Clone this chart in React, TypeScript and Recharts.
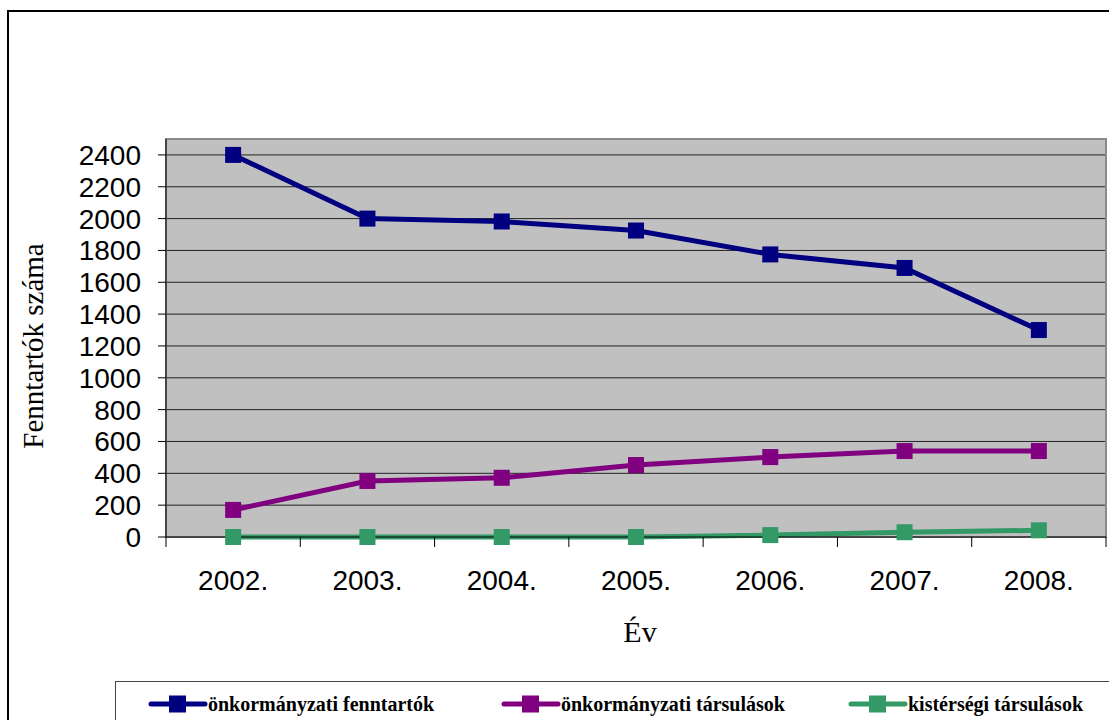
import React from 'react';
import { LineChart, Line, XAxis, YAxis, CartesianGrid, ReferenceArea, Legend } from 'recharts';

const years = ['2002.', '2003.', '2004.', '2005.', '2006.', '2007.', '2008.'];
const onkFenntartok = [2400, 2000, 1982, 1925, 1775, 1690, 1300];
const onkTarsulasok = [170, 352, 372, 452, 502, 540, 540];
const kisterTarsulasok = [0, 0, 0, 0, 12, 30, 42];
const yTicks = [0, 200, 400, 600, 800, 1000, 1200, 1400, 1600, 1800, 2000, 2200, 2400];
const xTicks = [-0.5, 0, 0.5, 1, 1.5, 2, 2.5, 3, 3.5, 4, 4.5, 5, 5.5, 6, 6.5];

const series = [
  { key: 'a', name: 'önkormányzati fenntartók', color: '#000080' },
  { key: 'b', name: 'önkormányzati társulások', color: '#800080' },
  { key: 'c', name: 'kistérségi társulások', color: '#339966' },
];

const data = years.map((label, i) => ({
  x: i,
  label,
  a: onkFenntartok[i],
  b: onkTarsulasok[i],
  c: kisterTarsulasok[i],
}));

const legendLefts = [32, 385, 732];

const XTick = (props: any) => {
  const { x, y, payload } = props;
  const v = payload.value;
  if (Number.isInteger(v)) {
    return (
      <text x={x} y={y + 53} textAnchor="middle" fontSize={28} fontFamily="'Liberation Sans', Arial, sans-serif" fill="#000">
        {years[v]}
      </text>
    );
  }
  return <line x1={x} x2={x} y1={y} y2={y + 10} stroke="#000" strokeWidth={1} />;
};

const makeDot = (color: string) => (props: any) => {
  const { cx, cy, index } = props;
  return <rect key={`d-${color}-${index}`} x={cx - 8} y={cy - 8} width={16} height={16} fill={color} />;
};

const renderLegend = () => (
  <div
    style={{
      position: 'relative',
      width: 1100,
      height: 60,
      border: '1.5px solid #444',
      boxSizing: 'border-box',
      background: '#fff',
    }}
  >
    {series.map((s, i) => (
      <div
        key={s.key}
        style={{ position: 'absolute', left: legendLefts[i], top: 9, height: 26, display: 'flex', alignItems: 'center' }}
      >
        <svg width={60} height={26} style={{ display: 'block' }}>
          <line x1={3} x2={57} y1={13} y2={13} stroke={s.color} strokeWidth={5} strokeLinecap="round" />
          <rect x={21} y={4.5} width={17} height={17} fill={s.color} />
        </svg>
        <span
          style={{
            fontFamily: "'Liberation Serif', 'Times New Roman', serif",
            fontWeight: 'bold',
            fontSize: 20,
            color: '#000',
            marginLeft: 0,
            whiteSpace: 'nowrap',
          }}
        >
          {s.name}
        </span>
      </div>
    ))}
  </div>
);

export default function App() {
  return (
    <div style={{ position: 'absolute', left: 0, top: 0, width: 1109, height: 720, overflow: 'hidden', background: '#fff' }}>
      <LineChart width={1109} height={720} data={data} margin={{ top: 139, right: 3, left: 106, bottom: 123 }}>
        <CartesianGrid vertical={false} fill="#c0c0c0" stroke="#222" strokeOpacity={1} />
        <ReferenceArea x1={-0.5} x2={6.5} y1={0} y2={2500} fill="none" stroke="#8a8a8a" strokeWidth={2} ifOverflow="visible" />
        <XAxis
          dataKey="x"
          type="number"
          domain={[-0.5, 6.5]}
          ticks={xTicks}
          interval={0}
          tickSize={0}
          tickMargin={0}
          tickLine={false}
          tick={<XTick />}
          axisLine={{ stroke: '#000', strokeWidth: 1 }}
          height={60}
          label={{
            content: () => (
              <text x={640} y={642} textAnchor="middle" fontSize={30} fontFamily="'Liberation Serif', 'Times New Roman', serif" fill="#000">
                Év
              </text>
            ),
          }}
        />
        <YAxis
          type="number"
          domain={[0, 2500]}
          ticks={yTicks}
          interval={0}
          width={60}
          tickSize={8}
          tickMargin={17}
          tick={{ fontSize: 28, fontFamily: "'Liberation Sans', Arial, sans-serif", fill: '#000' }}
          tickLine={{ stroke: '#000' }}
          axisLine={{ stroke: '#000', strokeWidth: 1 }}
          label={{
            content: () => (
              <text
                transform="translate(43,346) rotate(-90)"
                x={0}
                y={0}
                textAnchor="middle"
                fontSize={29}
                fontFamily="'Liberation Serif', 'Times New Roman', serif"
                fill="#000"
              >
                Fenntartók száma
              </text>
            ),
          }}
        />
        {series.map((s) => (
          <Line
            key={s.key}
            dataKey={s.key}
            name={s.name}
            stroke={s.color}
            strokeWidth={5}
            dot={makeDot(s.color)}
            activeDot={false}
            isAnimationActive={false}
          />
        ))}
        <Legend
          verticalAlign="middle"
          layout="horizontal"
          wrapperStyle={{ left: 115, top: 681, width: 1100, height: 60, position: 'absolute' }}
          content={renderLegend}
        />
      </LineChart>
      <div
        style={{
          position: 'absolute',
          left: 7,
          top: 10,
          width: 1200,
          height: 800,
          border: '2px solid #000',
          boxSizing: 'border-box',
          pointerEvents: 'none',
        }}
      />
    </div>
  );
}
